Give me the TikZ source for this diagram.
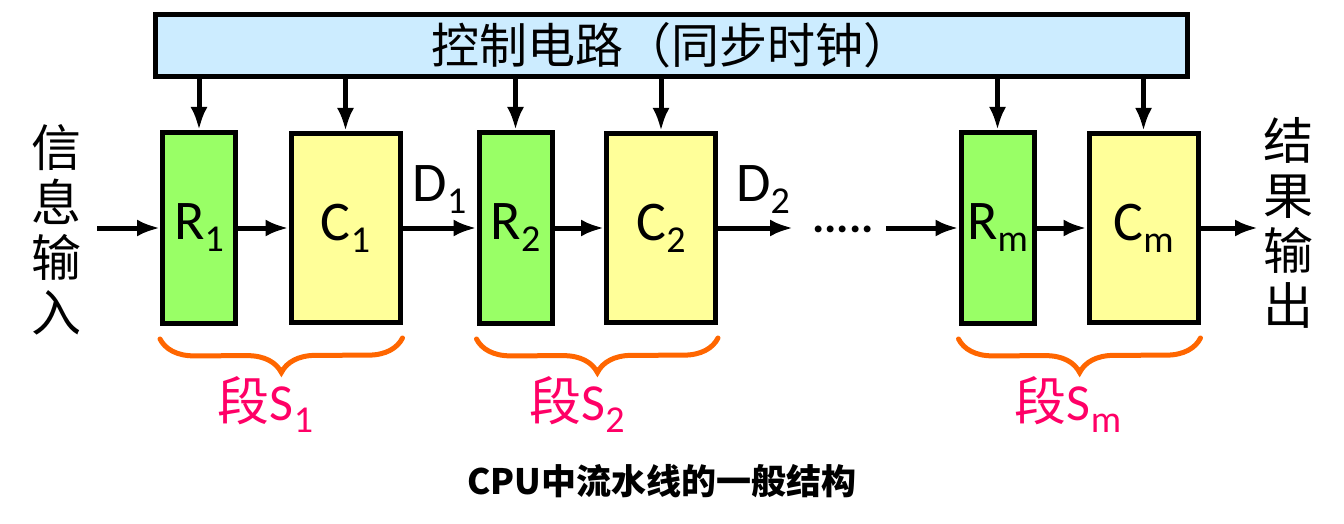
\documentclass[tikz,border=0pt]{standalone}
\usepackage{fontspec}
\setmainfont{Carlito}
\newfontfamily\cjk{Noto Sans CJK SC}
\usepackage{xcolor}
\usetikzlibrary{arrows.meta, decorations.pathreplacing, positioning}

\definecolor{ctrlblue}{HTML}{CCECFF}
\definecolor{reggreen}{HTML}{99FF66}
\definecolor{combyellow}{HTML}{FFFF99}
\definecolor{braceorange}{HTML}{FF6600}
\definecolor{segpink}{HTML}{FF0066}

\newcommand{\lowsub}[1]{\raisebox{-12pt}{\fontsize{38}{38}\selectfont #1}}

\tikzset{
    box/.style={draw, line width=5pt, inner sep=0pt, font=\fontsize{56}{60}\selectfont},
    reg/.style={box, fill=reggreen, minimum width=73pt, minimum height=191pt},
    comb/.style={box, fill=combyellow, minimum width=109pt, minimum height=189pt},
    flow/.style={line width=5pt, -{Latex[length=23pt, width=17pt]}},
    seg/.style={decorate, decoration={brace, mirror, amplitude=34pt},
        line width=5pt, draw=braceorange, line cap=round},
    seglabel/.style={text=segpink, anchor=base, font=\fontsize{52}{56}\selectfont},
    vtext/.style={align=center, font=\cjk\fontsize{50}{55}\selectfont}
}

\begin{document}
\begin{tikzpicture}[x=1pt, y=-1pt]
    \useasboundingbox (0,0) rectangle (1344,524);
    % 1. Control circuit
    \node[box, fill=ctrlblue, minimum width=1032pt, minimum height=62pt,
        font=\cjk\fontsize{48}{50}\selectfont] (ctrl) at (671.5,45.5) {控制电路（同步时钟）};

    % 2. Stages
    \node[reg]  (R1) at (199,228)    {R\lowsub{1}};
    \node[comb] (C1) at (345.5,228)  {C\lowsub{1}};
    \node[reg]  (R2) at (515.5,228)  {R\lowsub{2}};
    \node[comb] (C2) at (661,228)    {C\lowsub{2}};
    \node[reg]  (Rm) at (997.5,228)  {R\lowsub{m}};
    \node[comb] (Cm) at (1143.5,228) {C\lowsub{m}};

    \node[vtext] (input) at (56,230) {信\\息\\输\\入};
    \node[vtext] (output) at (1288,223) {结\\果\\输\\出};

    % 3. Data flow
    \coordinate (in) at (97,228);
    \coordinate (d2end) at (793,228);
    \coordinate (rmin) at (886,228);
    \coordinate (out) at (1258,228);
    \node[font=\bfseries\fontsize{46}{46}\selectfont] (dots) at (843,229) {.....};

    \draw[flow] (in) -- (R1);
    \draw[flow] (R1) -- (C1);
    \draw[flow] (C1) -- node[above=12pt, inner sep=0pt, font=\fontsize{56}{60}\selectfont] (d1) {D\lowsub{1}} (R2);
    \draw[flow] (R2) -- (C2);
    \draw[flow] (C2) -- node[pos=0.6, above=12pt, inner sep=0pt, font=\fontsize{56}{60}\selectfont] (d2) {D\lowsub{2}} (d2end);
    \draw[flow] (rmin) -- (Rm);
    \draw[flow] (Rm) -- (Cm);
    \draw[flow] (Cm) -- (out);

    % 4. Clock lines
    \foreach \n in {R1,C1,R2,C2,Rm,Cm}
        \draw[flow] (ctrl.south -| \n.north) -- (\n.north);

    % 5. Segments
    \draw[seg] ([yshift=-13pt]R1.south west) -- ([yshift=-13pt]C1.south east);
    \draw[seg] ([yshift=-13pt]R2.south west) -- ([yshift=-13pt]C2.south east);
    \draw[seg] ([yshift=-13pt]Rm.south west) -- ([yshift=-13pt]Cm.south east);
    \node[seglabel] (s1) at (265.5,420) {{\cjk 段}S\lowsub{1}};
    \node[seglabel] (s2) at (577,420)   {{\cjk 段}S\lowsub{2}};
    \node[seglabel] (sm) at (1068,420)  {{\cjk 段}S\lowsub{m}};

    \node[anchor=base, font=\cjk\bfseries\fontsize{35}{37}\selectfont] (title) at (662,494) {CPU中流水线的一般结构};
\end{tikzpicture}
\end{document}
